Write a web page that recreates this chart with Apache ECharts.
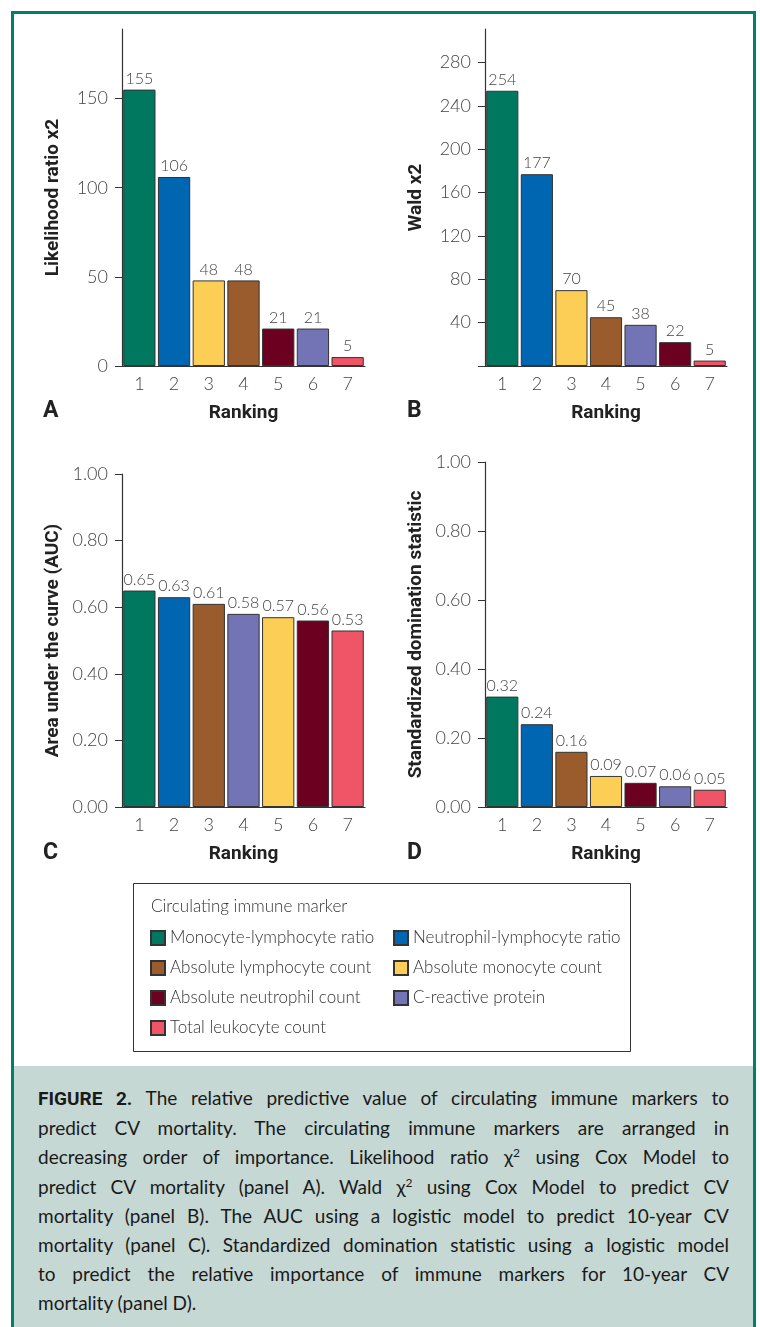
<!DOCTYPE html>
<html>
<head>
<meta charset="utf-8">
<script src="https://cdn.jsdelivr.net/npm/echarts@6/dist/echarts.min.js"></script>
<style>
  body { margin: 0; background: #fff; }
  #wrap { position: relative; width: 760px; height: 1327px; overflow: hidden; }
  #frame { position: absolute; left: 11px; top: 11px; width: 739px; height: 1400px; border: 3px solid #00806a; }
  #chart { position: absolute; left: 0; top: 0; width: 760px; height: 1066px; }
  #caption {
    position: absolute; left: 14px; top: 1066px; width: 739px; height: 261px;
    background: #c6d8d4; box-sizing: border-box; padding: 17px 24px 0 24px;
    font-family: Lato, sans-serif; font-weight: 400; font-size: 19px; line-height: 29.2px; color: #1a1a1a;
  }
  #caption .ln { text-align: justify; text-align-last: justify; white-space: nowrap; }
  #caption .ln.last { text-align-last: left; }
  #caption b { font-family: Roboto, sans-serif; font-weight: 700; }
</style>
</head>
<body>
<div id="wrap">
  <div id="frame"></div>
  <div id="chart"></div>
  <div id="caption">
    <div class="ln"><b>FIGURE 2.</b> The relative predictive value of circulating immune markers to</div>
    <div class="ln">predict CV mortality. The circulating immune markers are arranged in</div>
    <div class="ln">decreasing order of importance. Likelihood ratio &chi;<sup style="font-size:12px;line-height:0">2</sup> using Cox Model to</div>
    <div class="ln">predict CV mortality (panel A). Wald &chi;<sup style="font-size:12px;line-height:0">2</sup> using Cox Model to predict CV</div>
    <div class="ln">mortality (panel B). The AUC using a logistic model to predict 10-year CV</div>
    <div class="ln">mortality (panel C). Standardized domination statistic using a logistic model</div>
    <div class="ln">to predict the relative importance of immune markers for 10-year CV</div>
    <div class="ln last">mortality (panel D).</div>
  </div>
</div>
<script>
// 标记物名称与颜色
const markers = [
  'Monocyte-lymphocyte ratio',
  'Neutrophil-lymphocyte ratio',
  'Absolute lymphocyte count',
  'Absolute monocyte count',
  'Absolute neutrophil count',
  'C-reactive protein',
  'Total leukocyte count'
];
const markerColors = ['#00775f', '#0066b2', '#9a5c2c', '#fdce55', '#6c0020', '#7274b5', '#ef5566'];
const rankings = ['1', '2', '3', '4', '5', '6', '7'];

// Panel A: likelihood ratio
const orderA = [0, 1, 3, 2, 4, 5, 6];
const valuesA = [155, 106, 48, 48, 21, 21, 5];
// Panel B: Wald
const orderB = [0, 1, 3, 2, 5, 4, 6];
const valuesB = [254, 177, 70, 45, 38, 22, 5];
// Panel C: AUC
const orderC = [0, 1, 2, 5, 3, 4, 6];
const valuesC = [0.65, 0.63, 0.61, 0.58, 0.57, 0.56, 0.53];
// Panel D: standardized domination statistic
const orderD = [0, 1, 2, 3, 4, 5, 6];
const valuesD = [0.32, 0.24, 0.16, 0.09, 0.07, 0.06, 0.05];

const ticksA = [0, 50, 100, 150];
const ticksB = [0, 40, 80, 120, 160, 200, 240, 280];
const ticksCD = [0, 0.2, 0.4, 0.6, 0.8, 1.0];

const lightFont = 'Lato';
const boldFont = 'Roboto';

const panels = [
  { order: orderA, values: valuesA, name: 'Likelihood ratio x2', max: 189, interval: 50,
    ticks: ticksA, labels: ticksA, dec: 0, grid: { left: 122, top: 29, width: 243, height: 337 } },
  { order: orderB, values: valuesB, name: 'Wald x2', max: 311, interval: 40,
    ticks: ticksB, labels: ticksB.slice(1), dec: 0, grid: { left: 485, top: 29, width: 242, height: 337 } },
  { order: orderC, values: valuesC, name: 'Area under the curve (AUC)', max: 1, interval: 0.2,
    ticks: ticksCD, labels: ticksCD, dec: 2, grid: { left: 122, top: 474, width: 243, height: 333 } },
  { order: orderD, values: valuesD, name: 'Standardized domination statistic', max: 1, interval: 0.2,
    ticks: ticksCD, labels: ticksCD, dec: 2, grid: { left: 485, top: 462, width: 242, height: 345 } }
];

const nameStyle = { fontFamily: boldFont, fontWeight: 'bold', fontSize: 19, color: '#222' };

const grids = [], xAxes = [], yAxes = [], series = [];
panels.forEach(function (p, pi) {
  grids.push(p.grid);
  xAxes.push({
    type: 'category', gridIndex: pi, data: rankings,
    axisLine: { lineStyle: { color: '#333', width: 1.2 } },
    axisTick: { show: false },
    axisLabel: { fontFamily: lightFont, fontWeight: 300, fontSize: 18, color: '#444', margin: 9 },
    name: 'Ranking', nameLocation: 'middle', nameGap: 38, nameTextStyle: nameStyle
  });
  yAxes.push({
    type: 'value', gridIndex: pi, min: 0, max: p.max, interval: p.interval,
    axisLine: { show: true, lineStyle: { color: '#333', width: 1.2 } },
    axisTick: { show: true, length: 7, customValues: p.ticks, lineStyle: { color: '#333' } },
    axisLabel: {
      customValues: p.labels, fontFamily: lightFont, fontWeight: 300, fontSize: 18, color: '#444', margin: 14,
      formatter: function (v) { return v.toFixed(p.dec); }
    },
    splitLine: { show: false },
    name: p.name, nameLocation: 'middle', nameGap: 59, nameRotate: 90, nameTextStyle: nameStyle
  });
  markers.forEach(function (m, mi) {
    series.push({
      type: 'bar', name: m, xAxisIndex: pi, yAxisIndex: pi,
      barGap: '-100%', barCategoryGap: '7%',
      data: p.order.map(function (o, i) { return o === mi ? p.values[i] : '-'; }),
      itemStyle: { color: markerColors[mi], borderColor: '#333', borderWidth: 1 },
      label: {
        show: true, position: 'top', distance: 3,
        fontFamily: lightFont, fontWeight: 300, fontSize: 16, color: '#444',
        formatter: function (d) { return d.value.toFixed(p.dec); }
      },
      emphasis: { disabled: true }
    });
  });
});

const legendText = { fontFamily: lightFont, fontWeight: 300, fontSize: 17, color: '#333', lineHeight: 18 };

const option = {
  animation: false,
  grid: grids,
  xAxis: xAxes,
  yAxis: yAxes,
  series: series,
  title: [
    { text: 'A', left: 43, top: 400 },
    { text: 'B', left: 407, top: 400 },
    { text: 'C', left: 43, top: 842 },
    { text: 'D', left: 407, top: 842 }
  ].map(function (t) {
    t.padding = 0;
    t.textStyle = { fontFamily: boldFont, fontWeight: 'bold', fontSize: 23, color: '#222' };
    return t;
  }),
  legend: [
    { data: [markers[0], markers[2], markers[4], markers[6]], left: 150, top: 929 },
    { data: [markers[1], markers[3], markers[5]], left: 393, top: 929 }
  ].map(function (l) {
    l.orient = 'vertical';
    l.padding = 0;
    l.itemWidth = 14;
    l.itemHeight = 14;
    l.itemGap = 12;
    l.icon = 'rect';
    l.selectedMode = false;
    l.textStyle = legendText;
    return l;
  }),
  graphic: [
    { type: 'rect', shape: { x: 133.5, y: 883.5, width: 497, height: 168 },
      style: { fill: 'none', stroke: '#333', lineWidth: 1 } },
    { type: 'text', x: 151, y: 907,
      style: { text: 'Circulating immune marker', fontFamily: lightFont, fontWeight: 300, fontSize: 17,
               fill: '#333', verticalAlign: 'middle' } }
  ]
};

const chart = echarts.init(document.getElementById('chart'));
chart.setOption(option);
</script>
</body>
</html>
